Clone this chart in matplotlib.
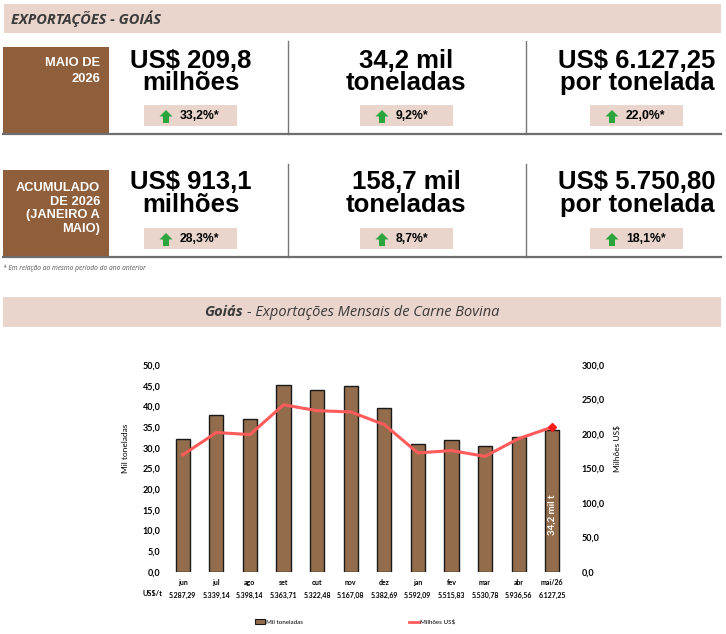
import numpy as np
import matplotlib
matplotlib.use("Agg")
import matplotlib.pyplot as plt
from matplotlib.patches import Rectangle, Polygon
from matplotlib.lines import Line2D
from matplotlib.ticker import FuncFormatter

# kpi cards
row_labels = ["MAIO DE\n2026", "ACUMULADO\nDE 2026\n(JANEIRO A\nMAIO)"]
kpi_top = [["US$ 209,8", "34,2 mil", "US$ 6.127,25"],
           ["US$ 913,1", "158,7 mil", "US$ 5.750,80"]]
kpi_bottom = ["milhões", "toneladas", "por tonelada"]
kpi_change = [["33,2%*", "9,2%*", "22,0%*"],
              ["28,3%*", "8,7%*", "18,1%*"]]

# monthly chart
months = ["jun", "jul", "ago", "set", "out", "nov", "dez", "jan", "fev", "mar", "abr", "mai/26"]
volume = [32.1, 37.9, 36.9, 45.2, 43.9, 44.9, 39.6, 30.8, 31.9, 30.3, 32.5, 34.2]
usd_mi = [169.6, 202.0, 199.0, 242.2, 233.7, 231.9, 213.5, 172.4, 175.8, 167.4, 193.2, 209.8]
price = ["5.287,29", "5.339,14", "5.398,14", "5.363,71", "5.322,48", "5.167,08",
         "5.382,69", "5.592,09", "5.515,83", "5.530,78", "5.936,56", "6.127,25"]

W, H = 726, 634
pink = "#e9d5cb"
brown = "#8f5e3a"
green = "#2ca53c"
dark = "#3a3a3a"

fig = plt.figure(figsize=(W / 100, H / 100), dpi=100)
bg = fig.add_axes([0, 0, 1, 1])
bg.set_xlim(0, W)
bg.set_ylim(H, 0)
bg.axis("off")

# header band
bg.add_patch(Rectangle((4, 4), 717, 29, color=pink, lw=0))
bg.text(11, 19, "EXPORTAÇÕES - GOIÁS", fontsize=10.5, fontweight="bold", style="italic",
        family="Open Sans", color=dark, va="center")

col_x = [191, 406, 637]
pill_x = [144, 360, 590]
rows = [dict(top=41, box=47, bottom=134, base1=68, base2=90, pill=105, lab=63.5, step=15.3),
        dict(top=164, box=170, bottom=257, base1=189, base2=212, pill=228, lab=188, step=13.7)]

for r, rw in enumerate(rows):
    bg.add_patch(Rectangle((3, rw["box"]), 106, rw["bottom"] - rw["box"], color=brown, lw=0))
    for i, line in enumerate(row_labels[r].split("\n")):
        bg.text(100, rw["lab"] + i * rw["step"], line, color="white", fontsize=9.3,
                fontweight="bold", family="Liberation Sans", ha="right", va="center")
    for sx in [287.5, 525.5]:
        bg.plot([sx, sx], [rw["top"], rw["bottom"]], color="#777777", lw=1)
    bg.plot([3, 721], [rw["bottom"], rw["bottom"]], color="#6e6e6e", lw=1.6)
    for c in range(3):
        bg.text(col_x[c], rw["base1"], kpi_top[r][c], fontsize=18.5, fontweight="bold",
                family="Liberation Sans", ha="center", va="baseline", color="black")
        bg.text(col_x[c], rw["base2"], kpi_bottom[c], fontsize=18.5, fontweight="bold",
                family="Liberation Sans", ha="center", va="baseline", color="black")
        px, py = pill_x[c], rw["pill"]
        bg.add_patch(Rectangle((px, py), 93, 21, color=pink, lw=0))
        cx = px + 22
        arrow = [(cx, py + 5), (cx + 6.5, py + 11.5), (cx + 3, py + 11.5), (cx + 3, py + 18),
                 (cx - 3, py + 18), (cx - 3, py + 11.5), (cx - 6.5, py + 11.5)]
        bg.add_patch(Polygon(arrow, closed=True, color=green, lw=0))
        bg.text(px + 36, py + 11, kpi_change[r][c], fontsize=8.8, fontweight="bold",
                family="Liberation Sans", va="center", color="black")

bg.text(3, 268, "* Em relação ao mesmo período do ano anterior", fontsize=4.8, style="italic",
        color="#555555", va="center", family="Open Sans")

# chart title band
bg.add_patch(Rectangle((3, 297), 718, 30, color=pink, lw=0))
bg.text(243, 312, "Goiás", fontsize=10.5, fontweight="bold", style="italic",
        family="Open Sans", color=dark, ha="right", va="center")
bg.text(247, 312, "- Exportações Mensais de Carne Bovina", fontsize=10.5, style="italic",
        family="Open Sans", color=dark, ha="left", va="center")

# chart
x0, x1, y0, y1 = 166, 569, 571.7, 365
ax = fig.add_axes([x0 / W, 1 - y0 / H, (x1 - x0) / W, (y0 - y1) / H])
x = np.arange(len(months))
ax.bar(x, volume, width=0.42, color="#936d4b", edgecolor="#1a1a1a", lw=1, zorder=2)
ax.set_xlim(-0.5, len(months) - 0.5)
ax.set_ylim(0, 50)
ax.set_yticks(np.arange(0, 50.1, 5))
fmt = FuncFormatter(lambda v, p: f"{v:.1f}".replace(".", ","))
ax.yaxis.set_major_formatter(fmt)
ax.set_xticks(x)
ax.set_xticklabels(months)
ax.tick_params(axis="x", length=0, pad=5, labelsize=5)
ax.tick_params(axis="y", length=0, pad=4, labelsize=6.5)
for s in ax.spines.values():
    s.set_visible(False)

ax2 = ax.twinx()
ax2.plot(x, usd_mi, color="#ff5b5b", lw=2.2, zorder=3)
ax2.plot(x[-1], usd_mi[-1], marker="D", color="#ff1a1a", ms=4, zorder=4)
ax2.set_ylim(0, 300)
ax2.set_yticks(np.arange(0, 301, 50))
ax2.yaxis.set_major_formatter(fmt)
ax2.tick_params(axis="y", length=0, pad=9, labelsize=6.5)
for s in ax2.spines.values():
    s.set_visible(False)

for a in (ax, ax2):
    for lab in a.get_xticklabels() + a.get_yticklabels():
        lab.set_fontweight("bold")
        lab.set_family("Lato")

ax.text(x[-1], volume[-1] * 0.4, f"{volume[-1]:.1f} mil t".replace(".", ","), rotation=90,
        color="white", fontsize=7, fontweight="bold", family="Lato", ha="center", va="center", zorder=5)

trans = ax.get_xaxis_transform()
for i, p in enumerate(price):
    ax.text(i, -0.113, p, transform=trans, fontsize=5, fontweight="bold", family="Lato",
            ha="center", va="center")
ax.text(-0.9, -0.105, "US$/t", transform=trans, fontsize=5.3, fontweight="bold", family="Lato",
        ha="center", va="center")

fig.text(125.7 / W, 1 - 448 / H, "Mil toneladas", rotation=90, fontsize=6, family="Lato",
         ha="center", va="center")
fig.text(617 / W, 1 - 448 / H, "Milhões US$", rotation=90, fontsize=6, family="Lato",
         ha="center", va="center")

handles = [Rectangle((0, 0), 1, 1, facecolor="#936d4b", edgecolor="#1a1a1a", lw=0.8),
           Line2D([], [], color="#ff5b5b", lw=2)]
fig.legend(handles, ["Mil toneladas", "Milhões US$"], loc="center", ncol=2, frameon=False,
           bbox_to_anchor=(355 / W, 1 - 622 / H), fontsize=4.5, columnspacing=17,
           handlelength=1.6, handletextpad=0.2, prop={"family": "Lato", "size": 4.5})

fig.savefig("out.png", dpi=100)
